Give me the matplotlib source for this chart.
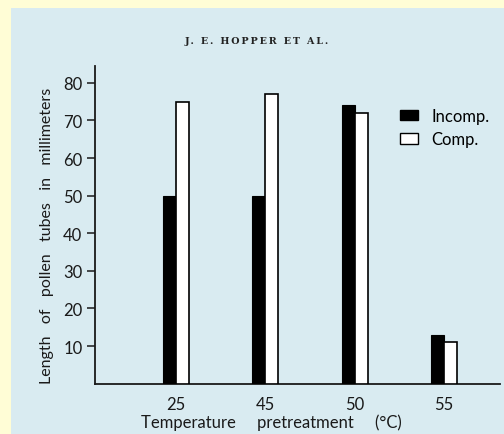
import matplotlib
matplotlib.use("Agg")
import matplotlib.pyplot as plt
import numpy as np
from matplotlib.patches import Patch, Rectangle

# Data
temperatures = ["25", "45", "50", "55"]
incomp = [50, 50, 74, 13]
comp = [75, 77, 72, 11]

plt.rcParams['font.family'] = ['Lato', 'DejaVu Sans']
INK = "#1a1a1a"

fig = plt.figure(figsize=(5.04, 4.35), dpi=100)
fig.patch.set_facecolor("#fffdd6")

# light blue scan panel (behind everything)
panel = Rectangle((11 / 504, 0), 1, 1 - 9 / 435, transform=fig.transFigure,
                  facecolor="#d9ebf1", edgecolor="none", zorder=-10)
fig.patches.append(panel)

ax = fig.add_axes([95 / 504, 1 - 384.6 / 435, (500 - 95) / 504, (384.6 - 67) / 435])
ax.set_facecolor("none")

x = np.arange(len(temperatures))
w = 0.145
ax.bar(x - w / 2, incomp, width=w, color="black", edgecolor="black", linewidth=0.8, zorder=3)
ax.bar(x + w / 2, comp, width=w, color="white", edgecolor="black", linewidth=1.2, zorder=3)

ax.set_xlim(-0.907, 3.627)
ax.set_ylim(0, 84.5)
ax.set_yticks([10, 20, 30, 40, 50, 60, 70, 80])
ax.set_xticks(x)
ax.set_xticklabels(temperatures)
ax.tick_params(axis="y", direction="out", length=6, width=1.1, labelsize=12, pad=3, colors=INK)
ax.tick_params(axis="x", length=0, labelsize=12, pad=9, colors=INK)

for s in ["top", "right"]:
    ax.spines[s].set_visible(False)
for s in ["left", "bottom"]:
    ax.spines[s].set_linewidth(1.3)
    ax.spines[s].set_color(INK)

gap = "   "
ax.set_ylabel(gap.join(["Length", "of", "pollen", "tubes", "in", "millimeters"]),
              fontsize=11.5, color=INK)
ax.yaxis.set_label_coords(-(95 - 47) / 405, (384.6 - 236) / 317.6)
ax.set_xlabel("Temperature" + " " * 5 + "pretreatment" + " " * 5 + "(°C)",
              fontsize=12, color=INK)
ax.xaxis.set_label_coords((271 - 95) / 405, -(423 - 384.6) / 317.6)
ax.xaxis.label.set_va("center")
ax.yaxis.label.set_va("center")

title = "\u2009".join("J. E. HOPPER ET AL.")
fig.text(257 / 504, 1 - 42 / 435, title, family="DejaVu Serif",
         fontsize=6.8, fontweight="bold", ha="center", va="center", color="#222222")

handles = [Patch(facecolor="black", edgecolor="black", label="Incomp."),
           Patch(facecolor="white", edgecolor="black", linewidth=1.0, label="Comp.")]
ax.legend(handles=handles, loc="upper left", bbox_to_anchor=(385 / 504, 1 - 94 / 435),
          bbox_transform=fig.transFigure, frameon=False, fontsize=12,
          handlelength=1.1, handleheight=0.6, handletextpad=0.8, labelspacing=0.45)

fig.savefig("out.png", dpi=100, facecolor=fig.get_facecolor())
